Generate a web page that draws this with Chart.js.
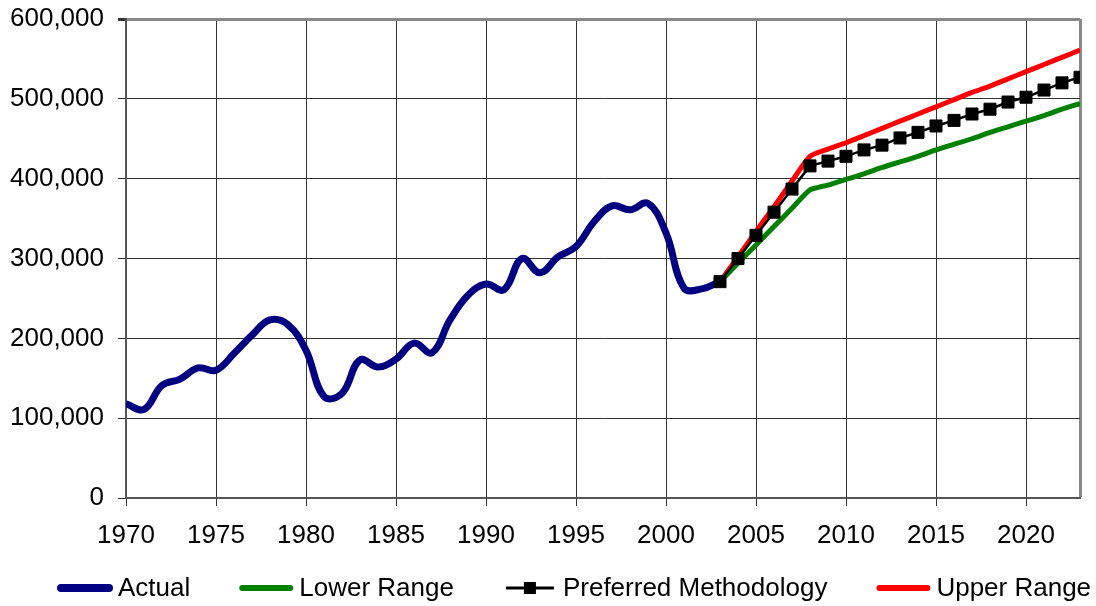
<!DOCTYPE html>
<html>
<head>
<meta charset="utf-8">
<script src="https://cdn.jsdelivr.net/npm/chart.js"></script>
<style>
  body{margin:0;background:#fff}
  #wrap{width:1096px;height:606px}
</style>
</head>
<body>
<div id="wrap"><canvas id="grafik"></canvas></div>
<script>
// ================= DATA =================
const actualYears = [1970,1971,1972,1973,1974,1975,1976,1977,1978,1979,
  1980,1981,1982,1983,1984,1985,1986,1987,1988,1989,
  1990,1991,1992,1993,1994,1995,1996,1997,1998,1999,
  2000,2001,2002,2003];
const actual = [118000,111000,141000,149000,163000,160000,181000,204000,223000,217000,
  185000,127000,131000,173000,164000,174000,194000,182000,223000,254000,
  268000,261000,300000,282000,302000,315000,346000,366000,361000,369000,
  332000,263000,262000,271000];

const forecastYears = [2003,2004,2005,2006,2007,2008,2009,2010,2011,2012,2013,
  2014,2015,2016,2017,2018,2019,2020,2021,2022,2023];
const lowerRange = [271000,294000,317000,340000,363000,386000,392000,399000,406000,414000,421000,
  428000,436000,443000,450000,458000,465000,472000,479000,487000,494000];
const preferred = [271000,300000,329000,358000,387000,416000,422000,428000,436000,442000,451000,
  458000,466000,473000,481000,487000,496000,502000,511000,520000,527000];
const upperRange = [271000,302000,334000,365000,397000,428000,437000,445000,454000,463000,472000,
  481000,490000,499000,508000,516000,525000,534000,543000,552000,561000];

const yTicks = [0,100000,200000,300000,400000,500000,600000];
const xTicks = [1970,1975,1980,1985,1990,1995,2000,2005,2010,2015,2020];

const FONT = "'Liberation Sans', Arial, sans-serif";
Chart.defaults.font.family = FONT;
Chart.defaults.font.size = 26;
Chart.defaults.color = "#000";

const pts = (xs, ys) => xs.map((x,i) => ({x:x, y:ys[i]}));

// ================= LEGEND (satu baris di bawah) =================
const legendBawah = {
  id: "legendBawah",
  afterDraw(chart) {
    const ctx = chart.ctx;
    const y = 588;
    let x = 58;
    ctx.save();
    ctx.font = "26px " + FONT;
    ctx.textBaseline = "middle";
    ctx.textAlign = "left";
    chart.data.datasets.forEach(ds => {
      ctx.strokeStyle = ds.borderColor;
      ctx.lineWidth = ds.legendWidth;
      ctx.lineCap = ds.pointRadius ? "butt" : "round";
      ctx.beginPath();
      ctx.moveTo(x + 3, y);
      ctx.lineTo(x + 51, y);
      ctx.stroke();
      if (ds.pointRadius) {
        ctx.fillStyle = ds.pointBackgroundColor;
        ctx.fillRect(x + 21, y - 6, 12, 12);
      }
      ctx.fillStyle = "#000";
      ctx.fillText(ds.label, x + 60, y + 1);
      x += 60 + ctx.measureText(ds.label).width + 49;
    });
    ctx.restore();
  }
};

new Chart(document.getElementById("grafik"), {
  type: "line",
  data: {
    datasets: [
      {label:"Actual", data:pts(actualYears, actual), borderColor:"#000080",
       borderWidth:7, legendWidth:8, pointRadius:0, tension:0.4, order:1},
      {label:"Lower Range", data:pts(forecastYears, lowerRange), borderColor:"#008000",
       borderWidth:5, legendWidth:6, pointRadius:0, tension:0.2, order:2},
      {label:"Preferred Methodology", data:pts(forecastYears, preferred), borderColor:"#000",
       borderWidth:2.5, legendWidth:3, pointRadius:8.5, pointStyle:"rect",
       pointBackgroundColor:"#000", pointBorderColor:"#000", pointBorderWidth:1,
       tension:0, order:0},
      {label:"Upper Range", data:pts(forecastYears, upperRange), borderColor:"#ff0000",
       borderWidth:5, legendWidth:6, pointRadius:0, tension:0.2, order:3}
    ]
  },
  options: {
    responsive: true,
    maintainAspectRatio: false,
    animation: false,
    layout: {padding:{left:0, right:16, top:19, bottom:56}},
    plugins: {legend:{display:false}, tooltip:{enabled:false}},
    scales: {
      x: {
        type: "linear",
        min: 1970, max: 2023,
        afterBuildTicks: s => { s.ticks = xTicks.concat([2023]).map(v => ({value:v})); },
        afterFit: s => { s.height = 52; s.paddingLeft = 0; s.paddingRight = 0; },
        ticks: {
          padding: 14, maxRotation: 0, autoSkip: false,
          callback: v => xTicks.includes(v) ? String(v) : ""
        },
        grid: {
          color: c => c.tick && c.tick.value === 2023 ? "#888" : "#333",
          lineWidth: c => c.tick && c.tick.value === 2023 ? 3 : 1,
          tickColor: c => c.tick && c.tick.value === 2023 ? "rgba(0,0,0,0)" : "#333",
          tickLength: 8
        },
        border: {color:"#555", width:2}
      },
      y: {
        min: 0, max: 600000,
        afterBuildTicks: s => { s.ticks = yTicks.map(v => ({value:v})); },
        afterFit: s => { s.width = 126; s.paddingTop = 0; s.paddingBottom = 0; },
        ticks: {
          padding: 14,
          callback: v => v.toLocaleString("en-US")
        },
        grid: {
          color: c => c.tick && c.tick.value === 600000 ? "#888" : "#333",
          lineWidth: c => c.tick && c.tick.value === 600000 ? 3 : 1,
          tickColor: "#333",
          tickLength: 8
        },
        border: {color:"#555", width:2}
      }
    }
  },
  plugins: [legendBawah]
});
</script>
</body>
</html>
